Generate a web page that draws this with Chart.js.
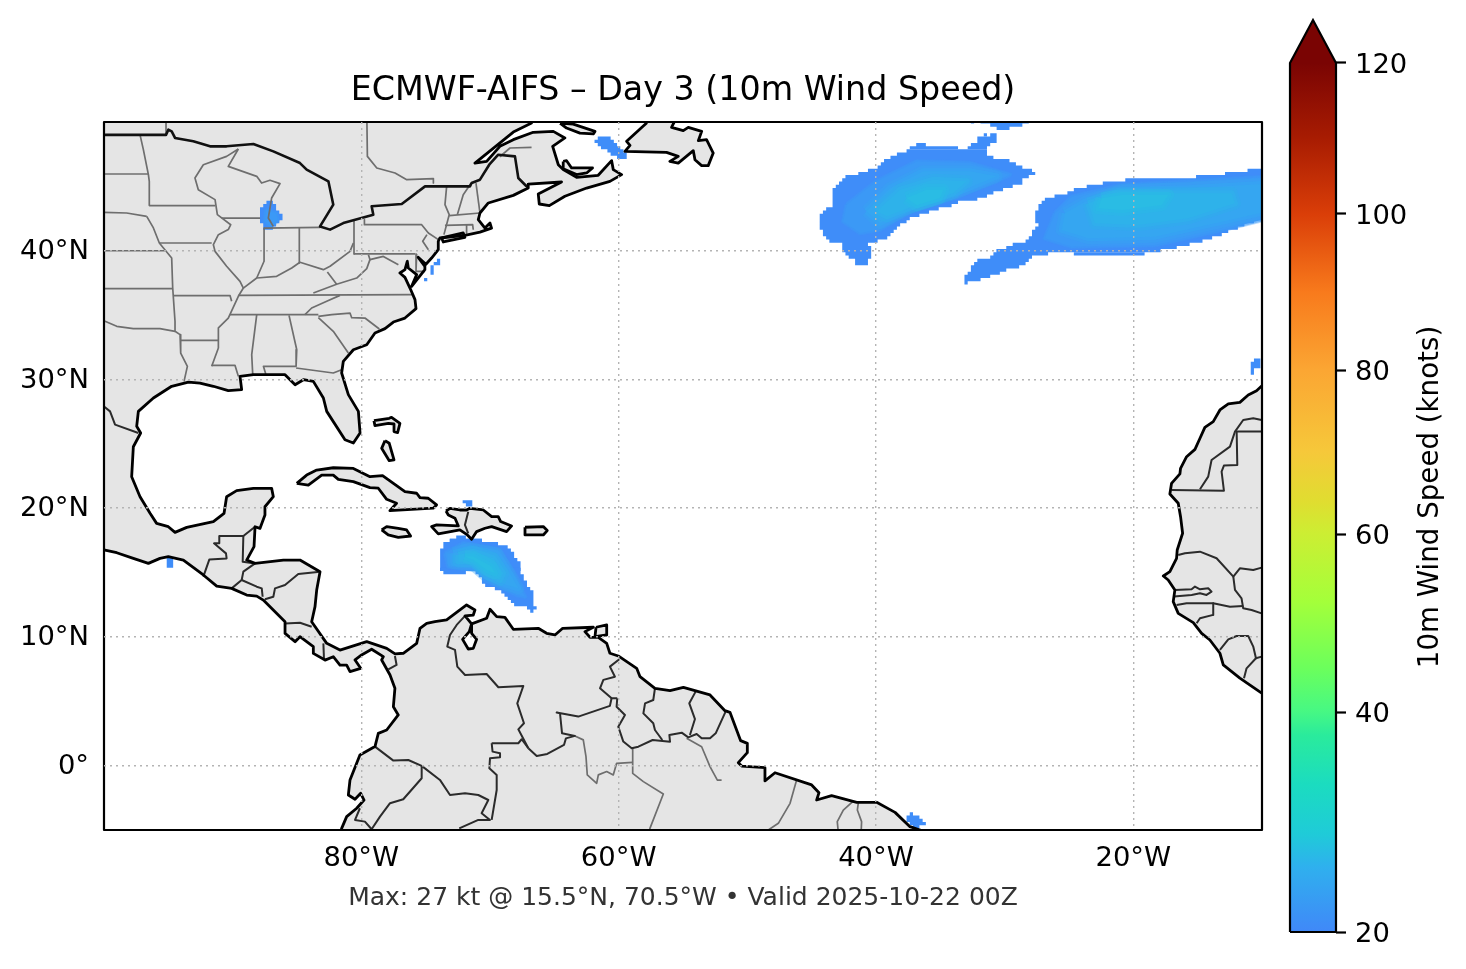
<!DOCTYPE html>
<html>
<head>
<meta charset="utf-8">
<title>ECMWF-AIFS Day 3</title>
<script src="https://cdn.jsdelivr.net/npm/chart.js@4/dist/chart.umd.min.js"></script>
<style>
  html, body { margin: 0; padding: 0; background: #fff; overflow: hidden; }
  canvas { position: absolute; top: 0; }
  #mapChart { left: 0; }
  #barChart { left: 1270px; }
</style>
</head>
<body>
<canvas id="mapChart" width="1466" height="969"></canvas>
<canvas id="barChart" width="196" height="969"></canvas>
<script>
// axis ticks
var lonTicks = [-80, -60, -40, -20];
var latTicks = [0, 10, 20, 30, 40];
var speedTicks = [20, 40, 60, 80, 100, 120];

// colour bar: position of each tick along the bar (it is not linear), and colour stops
var speedApex = 126;
var speedStops = [20, 40, 60, 80, 100, 120, speedApex];
var speedStopPos = [0, 0.2412, 0.4364, 0.6162, 0.7873, 0.9529, 1];
var colorKnots = [20, 25.9, 28.9, 33.4, 37.9, 40, 44.9, 52.4, 60, 64, 70, 80, 90, 100, 110, 120];
var colorValues = ['#4088f8', '#2fb0ee', '#1fcbd8', '#1bdcc0', '#2aeb9c', '#46f884', '#6bff5c', '#a4ff3a', '#ccee33',
  '#e0dd30', '#f6c83a', '#fba633', '#f87a1c', '#da3e08', '#a81c02', '#7a0403'];
var barBody = [[0, 20], [1, 20], [1, 120], [0, 120]];
var barArrow = [[0, 120], [1, 120], [0.5, speedApex]];

// land outlines, [lon, lat]
var americas = [[-101, 51], [-66.5, 51], [-66.77, 49.92], [-68.19, 49.22], [-71.17, 46.81], [-70.26, 46.94], [-69.23, 48.11],
  [-68.19, 48.63], [-66.64, 49.2], [-65.08, 49.27], [-64.18, 48.76], [-65.13, 48.11], [-64.69, 46.68], [-64.31, 46.3],
  [-63.27, 45.7], [-61.59, 45.86], [-60.55, 47.0], [-60.42, 46.3], [-59.77, 45.91], [-60.68, 45.39], [-62.49, 44.87],
  [-64.18, 44.23], [-65.39, 43.5], [-66.17, 43.63], [-66.25, 44.41], [-64.44, 45.34], [-67.03, 45.18], [-67.03, 44.87],
  [-68.19, 44.3], [-70.13, 43.71], [-70.78, 42.93], [-70.91, 42.41], [-70.39, 41.76], [-70.0, 42.15], [-69.88, 41.76],
  [-70.78, 41.45], [-71.95, 41.2], [-73.89, 40.99], [-74.02, 40.73], [-74.02, 40.08], [-74.54, 39.43], [-74.98, 38.95],
  [-75.58, 39.49], [-75.06, 38.79], [-75.06, 38.53], [-76.09, 37.23], [-75.7, 38.14], [-76.35, 38.66], [-76.43, 39.18],
  [-76.61, 38.53], [-77, 38.27], [-76.61, 37.93], [-76.22, 37.1], [-75.83, 36.2], [-75.75, 35.5], [-76.61, 34.77],
  [-77.51, 34.46], [-78.16, 33.95], [-78.94, 33.61], [-79.58, 32.7], [-80.62, 32.31], [-81.4, 31.41], [-81.53, 30.5],
  [-81.01, 28.82], [-80.23, 27.52], [-80.1, 25.84], [-80.62, 25.06], [-81.27, 25.32], [-82.69, 27.52], [-82.95, 28.56],
  [-83.73, 29.85], [-84.5, 29.98], [-85.15, 29.59], [-85.93, 30.37], [-87.1, 30.37], [-88.39, 30.37], [-89.43, 30.24],
  [-89.3, 29.21], [-90.34, 29.13], [-91.5, 29.47], [-92.54, 29.72], [-93.44, 29.8], [-94.74, 29.47], [-96.16, 28.56],
  [-97.33, 27.52], [-97.46, 26.36], [-97.15, 25.84], [-97.72, 24.77], [-97.85, 22.44], [-97.2, 20.89], [-96.42, 19.6],
  [-95.91, 18.82], [-95.0, 18.56], [-94.48, 18.12], [-93.57, 18.51], [-91.5, 18.95], [-90.67, 19.6], [-90.47, 20.89],
  [-89.69, 21.36], [-88.39, 21.54], [-86.97, 21.54], [-86.84, 20.89], [-87.49, 20.11], [-87.49, 19.47], [-87.88, 18.43],
  [-88.26, 18.56], [-88.34, 17.01], [-88.91, 15.97], [-88.26, 15.71], [-86.06, 15.97], [-84.77, 15.97], [-83.21, 15.06],
  [-83.47, 13.64], [-83.6, 12.35], [-83.86, 11.18], [-82.69, 9.5], [-81.66, 8.98], [-79.58, 9.63], [-78.03, 9.11],
  [-77.38, 8.68], [-76.74, 8.73], [-75.7, 9.5], [-75.44, 10.67], [-74.92, 11.06], [-74.28, 11.19], [-73.37, 11.32],
  [-71.82, 12.48], [-71.17, 12.09], [-71.3, 11.7], [-71.94, 11.63], [-71.43, 11.01], [-70.26, 11.45], [-70.0, 12.15],
  [-69.48, 11.58], [-68.84, 11.52], [-68.19, 10.59], [-66.25, 10.67], [-65.6, 10.28], [-64.95, 10.15], [-64.35, 10.67],
  [-61.97, 10.75], [-62.62, 10.41], [-62.23, 9.97], [-61.58, 9.97], [-60.93, 9.5], [-60.68, 8.73], [-60.03, 8.52],
  [-58.6, 7.56], [-58.34, 6.91], [-57.18, 6.0], [-56.01, 5.82], [-54.97, 6.08], [-52.9, 5.49], [-51.74, 4.27],
  [-51.35, 4.14], [-50.52, 1.94], [-50.0, 1.73], [-50.0, 1.01], [-50.7, 0.23], [-50.44, -0.03], [-48.63, -0.16],
  [-48.63, -1.19], [-47.85, -0.55], [-45.0, -1.5], [-44.43, -2.1], [-44.61, -2.67], [-43.45, -2.33], [-41.5, -2.85],
  [-39.95, -2.85], [-38.52, -3.63], [-37.36, -4.74], [-36.58, -5.0], [-35.8, -5.5], [-36, -6], [-81.8, -6],
  [-81.53, -4.87], [-81.14, -3.96], [-80.36, -3.31], [-79.79, -2.67], [-80.05, -2.15], [-80.49, -2.61], [-81.01, -2.28],
  [-80.88, -1.11], [-80.11, 0.83], [-78.94, 1.48], [-78.68, 2.51], [-78.03, 2.77], [-77.13, 3.94], [-77.51, 4.58],
  [-77.39, 6.01], [-77.77, 7.04], [-78.42, 8.21], [-78.29, 8.47], [-79.2, 9.04], [-79.98, 8.6], [-80.49, 8.21],
  [-80.05, 7.56], [-80.88, 7.3], [-81.14, 7.81], [-81.66, 7.81], [-82.18, 8.46], [-82.82, 8.2], [-83.73, 8.72],
  [-83.73, 9.24], [-84.77, 10.02], [-85.15, 9.63], [-85.93, 10.27], [-85.93, 11.18], [-87.62, 12.86], [-88.13, 13.17],
  [-88.91, 13.25], [-90.08, 13.77], [-91.24, 13.95], [-92.28, 14.81], [-93.83, 15.97], [-95.0, 16.23], [-95.65, 16.1],
  [-96.55, 15.71], [-97.72, 16.1], [-99.01, 16.54], [-99.92, 16.75], [-101, 17]];
var africa = [[-10.03, 29.49], [-10.42, 29.13], [-11.07, 28.79], [-11.72, 28.22], [-12.62, 28.1], [-13.27, 27.63],
  [-13.79, 26.72], [-14.44, 26.28], [-14.82, 25.43], [-15.21, 24.57], [-15.86, 24.0], [-16.33, 23.1], [-16.38, 22.66],
  [-17.03, 21.93], [-17.16, 21.1], [-16.51, 20.38], [-16.33, 19.34], [-16.17, 18.05], [-16.59, 16.75], [-16.64, 16.11],
  [-17.16, 15.07], [-17.67, 14.73], [-17.29, 14.42], [-16.77, 13.65], [-16.9, 12.74], [-16.51, 11.83], [-15.34, 11.11],
  [-14.69, 10.28], [-14.05, 9.76], [-13.27, 8.73], [-13.01, 7.82], [-11.72, 6.8], [-10.08, 5.67], [-9.5, 5.3],
  [-9, 5.3], [-9, 29.9], [-9.5, 29.9]];
var longIsland = [[-73.76, 40.99], [-72.08, 41.38], [-71.95, 41.04], [-73.63, 40.68]];
var anticosti = [[-64.56, 49.92], [-63.53, 49.84], [-61.84, 49.27], [-61.97, 49.07], [-63.01, 49.14], [-64.05, 49.53]];
var princeEdward = [[-64.31, 46.94], [-64.05, 46.99], [-63.66, 46.43], [-62.03, 46.43], [-62.49, 46.04], [-63.27, 45.91], [-64.31, 46.37]];
var newfoundland = [[-57.83, 49.92], [-59.38, 48.5], [-59.12, 48.19], [-59.51, 47.72], [-56.28, 47.64], [-55.37, 47.33],
  [-56.02, 46.94], [-55.37, 46.81], [-54.2, 47.77], [-54.07, 47.07], [-53.55, 46.61], [-53.04, 46.61], [-52.65, 47.59],
  [-53.17, 48.63], [-53.81, 48.55], [-53.55, 49.27], [-54.59, 49.58], [-54.98, 49.33], [-55.89, 49.58], [-55.63, 50.1],
  [-55.63, 50.6], [-57.6, 50.6]];
var bahamasNorth = [[-79.02, 26.8], [-77.83, 26.98], [-77.65, 27.06], [-77.0, 26.59], [-77.18, 25.87], [-77.46, 25.95],
  [-77.46, 26.54], [-77.9, 26.59], [-78.94, 26.41]];
var bahamasAndros = [[-78.16, 25.25], [-77.83, 25.04], [-77.46, 23.75], [-77.83, 23.69], [-78.42, 24.65]];
var cuba = [[-85.02, 21.93], [-84.25, 22.57], [-83.47, 22.96], [-82.18, 23.14], [-80.62, 23.09], [-79.33, 22.45], [-78.35, 22.53],
  [-76.61, 21.29], [-75.7, 21.16], [-75.44, 20.82], [-74.8, 20.77], [-74.15, 20.25], [-74.41, 20.0], [-77.78, 19.81],
  [-77.26, 20.38], [-78.03, 20.69], [-78.68, 21.55], [-79.33, 21.6], [-80.62, 22.06], [-81.79, 22.24], [-82.18, 22.57],
  [-83.08, 22.57], [-84.12, 21.8]];
var jamaica = [[-78.42, 18.31], [-78.03, 18.57], [-77.13, 18.44], [-76.48, 18.31], [-76.17, 17.84], [-77.13, 17.74], [-77.91, 17.92]];
var hispaniola = [[-73.42, 19.78], [-73.11, 19.99], [-72.34, 19.86], [-71.82, 19.86], [-71.56, 19.99], [-70.52, 19.86], [-69.87, 19.34],
  [-69.36, 19.34], [-69.17, 18.96], [-68.32, 18.62], [-68.71, 18.18], [-69.87, 18.57], [-70.39, 18.44], [-71.04, 18.18],
  [-71.43, 17.58], [-71.76, 17.92], [-72.34, 18.31], [-74.02, 18.0], [-74.54, 18.57], [-74.15, 18.7], [-72.46, 18.62],
  [-72.72, 19.22], [-73.24, 19.47]];
var puertoRico = [[-67.28, 18.52], [-65.86, 18.57], [-65.55, 18.26], [-65.86, 17.92], [-67.28, 17.92]];
var trinidad = [[-61.76, 10.75], [-60.93, 10.93], [-60.93, 10.15], [-61.84, 10.02]];
var lakeMaracaibo = [[-71.43, 11.01], [-71.43, 10.28], [-71.04, 9.81], [-71.3, 9.11], [-71.69, 9.06], [-72.13, 9.81], [-71.61, 10.41]];
var landShapes = [americas, africa, longIsland, anticosti, princeEdward, newfoundland, bahamasNorth, bahamasAndros, cuba, jamaica, hispaniola, puertoRico, trinidad];

// black US / Canada line
var canadaBorder = [[-99.92, 49.0], [-95.18, 49.0], [-95, 49.4], [-94.74, 49.27], [-94.48, 48.76], [-93.06, 48.5], [-91.76, 48.11],
  [-90.47, 48.11], [-88.39, 48.29], [-86.84, 47.72], [-84.77, 46.81], [-84.25, 46.3], [-82.56, 45.39], [-82.18, 43.58],
  [-83.21, 41.89], [-82.43, 41.64], [-81.4, 42.15], [-79.07, 42.8], [-79.2, 43.45], [-76.86, 43.63], [-75.05, 45.0],
  [-74.93, 45.0], [-71.56, 45.0], [-71.43, 45.26], [-70.78, 45.52], [-70.06, 46.68], [-69.36, 47.46], [-68.06, 47.33],
  [-67.8, 45.65], [-67.03, 44.87]];

// dark country borders
var countryBorders = [
  [[-101, 28.4], [-100, 27.9], [-99.53, 27.52], [-99.14, 26.49], [-97.33, 25.84]],
  [[-92.28, 14.68], [-91.81, 16.02], [-90.47, 16.1], [-90.52, 16.49], [-91.45, 17.27], [-91.04, 17.27], [-91.04, 17.84], [-89.17, 17.84], [-89.22, 15.84], [-88.26, 15.71]],
  [[-89.17, 17.84], [-88.26, 18.56]],
  [[-90.08, 13.77], [-89.3, 14.42], [-88.13, 13.9], [-87.74, 13.77], [-87.67, 13.12]],
  [[-89.3, 14.42], [-89.17, 15.07], [-88.26, 15.71]],
  [[-87.49, 12.92], [-86.84, 13.12], [-86.71, 13.77], [-85.93, 14.03], [-84.9, 14.88], [-83.21, 15.06]],
  [[-85.93, 11.05], [-84.77, 11.1], [-83.86, 10.79]],
  [[-82.95, 9.5], [-82.9, 8.2]],
  [[-77.39, 8.52], [-77.26, 7.82], [-77.9, 7.48]],
  [[-71.94, 11.63], [-72.59, 10.93], [-73.11, 10.15], [-73.32, 9.25], [-72.72, 8.99], [-72.54, 7.69], [-71.94, 7.04], [-70.26, 7.12], [-69.35, 6.09], [-67.41, 6.19], [-67.88, 4.84], [-67.36, 3.29], [-67.8, 2.82], [-67.02, 1.35]],
  [[-69.87, 1.74], [-67.8, 1.74], [-67.54, 2.05], [-67.02, 1.35]],
  [[-69.87, 1.74], [-69.8, 1.09], [-69.22, 0.96], [-69.22, 0.65], [-70, 0.57], [-70.05, -0.21], [-69.48, -0.72], [-69.48, -1.89], [-69.87, -4.22]],
  [[-67.02, 1.35], [-66.37, 0.75], [-65.55, 0.91], [-64.25, 1.61], [-64.1, 2.12], [-63.4, 2.31], [-64.4, 2.51], [-64.56, 4.07], [-64.82, 4.12], [-63.14, 3.81], [-60.68, 4.64], [-60.55, 5.23], [-60.11, 5.23]],
  [[-59.95, 8.26], [-60.68, 7.69], [-60.29, 6.91], [-61.19, 6.66], [-61.45, 6.01], [-60.55, 5.23]],
  [[-60.11, 5.23], [-60.16, 4.58], [-59.51, 3.94], [-60.03, 3.03], [-59.64, 1.87], [-58.99, 1.35], [-58.47, 1.47], [-57.36, 1.99], [-56.01, 1.86], [-56.06, 2.38], [-55.1, 2.56], [-54.59, 2.2], [-53.94, 2.46], [-53.55, 2.12], [-52.9, 2.12], [-52.46, 2.51], [-51.69, 4.19]],
  [[-57.18, 6.0], [-57.31, 5.1], [-57.95, 4.84], [-58.08, 4.06], [-57.31, 3.29], [-57.18, 2.77], [-56.61, 1.99]],
  [[-54.02, 5.75], [-54.51, 4.84], [-54.07, 3.62], [-54.46, 2.38]],
  [[-78.94, 1.48], [-77.51, 0.39], [-76.35, 0.44], [-75.31, -0.02], [-73.89, -1.11], [-73.11, -2.28], [-71.94, -2.15], [-70.91, -2.28], [-70.13, -2.67], [-70.65, -3.7], [-70.0, -4.22], [-70.91, -4.22], [-72.39, -4.87]],
  [[-75.31, -0.02], [-75.31, -0.98], [-76.74, -2.61], [-77.77, -2.92], [-78.55, -3.96], [-79.2, -4.94], [-79.72, -4.35], [-80.49, -4.22], [-80.11, -3.31]],
  [[-71.69, 19.73], [-71.95, 18.7], [-71.69, 18.05]],
  [[-17.03, 21.41], [-12.96, 21.36], [-13.14, 22.84], [-12.96, 23.31], [-11.92, 23.36], [-11.97, 25.95], [-10.03, 25.95], [-9, 25.95]],
  [[-14.82, 21.47], [-14.18, 22.45], [-13.92, 23.74], [-12.49, 24.78], [-12.1, 25.95], [-11.46, 26.85], [-10.68, 26.98], [-10.03, 26.85], [-9, 26.6]],
  [[-16.51, 16.37], [-15.99, 16.5], [-14.82, 16.62], [-13.53, 16.11], [-12.23, 14.68], [-11.72, 15.33], [-10.68, 15.2], [-10.03, 15.38], [-9, 15.5]],
  [[-12.23, 14.68], [-12.1, 13.65], [-11.59, 13], [-11.46, 12.22], [-10.81, 12.09], [-10.03, 11.83], [-9, 11.7]],
  [[-16.77, 13.65], [-15.47, 13.7], [-15.21, 13.91], [-14.82, 13.7], [-14.18, 13.78], [-13.92, 13.52], [-14.31, 13.26], [-14.82, 13.39], [-15.47, 13.26], [-16.84, 13.13]],
  [[-16.64, 12.48], [-15.86, 12.61], [-13.79, 12.61], [-12.49, 12.35], [-11.46, 12.4]],
  [[-13.79, 12.61], [-13.79, 11.71], [-14.82, 11.45], [-15.08, 11.06]],
  [[-13.27, 8.99], [-12.62, 9.81], [-11.97, 10.07], [-11.07, 10.07], [-10.68, 9.25], [-10.47, 8.34], [-10.03, 8.47], [-9, 8.4]],
  [[-10.47, 8.34], [-11.2, 7.56], [-11.4, 6.78]]
];

// grey state and province lines
var stateLines = [
  [[-101, 45.96], [-96.55, 45.96]],
  [[-97.2, 49], [-96.94, 47.85], [-96.55, 45.91], [-96.48, 45.39], [-96.48, 43.53]],
  [[-101, 43], [-98.24, 42.93], [-96.68, 42.67]],
  [[-96.48, 43.5], [-91.37, 43.5]],
  [[-89.56, 47.9], [-90.47, 47.33], [-92.28, 46.68], [-92.93, 45.65], [-92.67, 44.74], [-91.37, 43.97], [-91.19, 42.8], [-90.15, 42.02],
    [-90.34, 41.64], [-91.11, 41.25], [-91.5, 40.47], [-91.37, 39.95], [-90.47, 38.79], [-89.43, 37.62], [-89.17, 37.1], [-89.56, 36.46],
    [-90.34, 34.77], [-91.11, 34.0], [-91.11, 32.44], [-91.63, 31.02]],
  [[-95.7, 40.6], [-91.63, 40.6]],
  [[-96.68, 42.67], [-96.16, 41.77], [-95.7, 40.6], [-94.74, 39.43], [-94.66, 37.1]],
  [[-101, 40], [-95.26, 40]],
  [[-101, 37.05], [-94.66, 37.05]],
  [[-94.56, 36.51], [-90.2, 36.51], [-90.08, 36.07]],
  [[-94.66, 37.1], [-94.48, 34.5], [-94.48, 33.74], [-94.09, 33.48], [-94.04, 32.05], [-93.52, 31.02], [-93.78, 29.85]],
  [[-101, 34.6], [-99.92, 34.52], [-99.01, 34.13], [-97.72, 33.95], [-95.65, 33.95], [-94.48, 33.74]],
  [[-94.04, 33.04], [-91.11, 33.04]],
  [[-91.63, 31.1], [-89.82, 31.1], [-89.56, 30.24]],
  [[-90.85, 42.54], [-87.87, 42.54]],
  [[-89.56, 47.9], [-90.34, 46.55], [-88.13, 45.78], [-87.75, 45.26], [-87.1, 45.47], [-86.32, 45.21], [-86.97, 44.1], [-87.23, 42.54], [-86.84, 41.89]],
  [[-87.56, 41.76], [-87.56, 39.18], [-88.13, 37.88]],
  [[-87.56, 41.76], [-83.21, 41.82]],
  [[-84.82, 41.76], [-84.82, 39.05]],
  [[-89.17, 37.1], [-88.13, 37.88], [-86.58, 38.01], [-85.41, 38.66], [-84.77, 39.1], [-82.95, 38.53], [-82.43, 38.79], [-80.88, 39.95], [-80.62, 40.6]],
  [[-80.57, 42.28], [-80.57, 39.75]],
  [[-80.57, 39.75], [-75.83, 39.75]],
  [[-79.76, 42.41], [-79.76, 42.02], [-75.31, 42.02], [-74.79, 41.38], [-74.01, 40.86]],
  [[-74.9, 41.25], [-75.23, 40.73], [-74.79, 40.08]],
  [[-82.64, 38.35], [-81.92, 37.4], [-80.36, 37.88], [-79.58, 38.61], [-79.33, 39.31], [-79.45, 39.69]],
  [[-79.33, 39.31], [-78.29, 39.56], [-77.12, 38.92]],
  [[-81.92, 37.4], [-83.73, 36.72]],
  [[-89.56, 36.53], [-75.96, 36.59]],
  [[-90.21, 35.03], [-83.34, 35.03]],
  [[-84.38, 35.03], [-83.86, 35.55], [-82.69, 36.07], [-81.66, 36.53]],
  [[-88.13, 35.03], [-88.52, 31.93], [-88.44, 30.37]],
  [[-85.62, 34.98], [-85.02, 32.31], [-85.07, 31.02]],
  [[-87.43, 30.42], [-87.61, 31.02], [-85.07, 31.02]],
  [[-85.07, 30.89], [-82.18, 30.5], [-81.53, 30.76]],
  [[-83.34, 34.9], [-82.3, 35.03], [-80.88, 35.16], [-80.75, 34.8], [-79.72, 34.77], [-78.6, 33.92]],
  [[-83.34, 34.8], [-82.18, 33.74], [-81.01, 32.06]],
  [[-75.7, 39.75], [-75.75, 38.4], [-75.05, 38.4]],
  [[-79.58, 51], [-79.53, 47.33], [-78.8, 46.43], [-77.38, 46.04], [-76.47, 45.52], [-74.4, 45.6], [-74.4, 45.26]],
  [[-95.18, 51], [-95.18, 49]],
  [[-69.23, 47.3], [-68.45, 47.98], [-66.77, 48.03]],
  [[-73.37, 45.0], [-73.5, 43.58], [-73.17, 42.8], [-73.58, 41.25]],
  [[-71.51, 45.18], [-72.08, 44.35], [-72.54, 42.8]],
  [[-71.09, 45.26], [-70.78, 42.93]],
  [[-73.17, 42.72], [-70.78, 42.93]],
  [[-73.5, 41.97], [-71.35, 42.02], [-71.3, 41.63]],
  [[-71.82, 41.97], [-71.82, 41.38]],
  [[-63.4, 2.31], [-62.75, 2.0], [-62.54, 0.7], [-62.44, -0.72], [-61.71, -1.37], [-61.58, -0.72], [-60.93, -0.46], [-60.42, -0.72], [-60.16, 0.18], [-58.91, 0.26]],
  [[-58.91, 1.35], [-58.91, -0.6], [-58.08, -1.24], [-56.53, -2.2], [-57.57, -4.87], [-57.7, -6]],
  [[-54.72, 2.12], [-53.55, 1.47], [-52.9, -0.08], [-52.33, -1.12], [-52, -1.12]],
  [[-46.17, -1.12], [-46.68, -2.93], [-47.59, -4.48], [-48.37, -5.0], [-49, -6]],
  [[-41.81, -2.8], [-42.54, -3.45], [-43.01, -4.35], [-42.85, -6]],
  [[-41.37, -2.85], [-41.45, -3.45], [-41.12, -4.35], [-41.19, -6]]
];

// wind cells: [lat, lonStart, lonEnd] for each 0.25 degree row
var northBlob = [[47.75, -37.625, -31.375], [47.5, -38.375, -31.375], [47.25, -38.875, -30.875], [47, -39.375, -29.625],
  [46.75, -39.625, -29.125], [46.5, -39.875, -28.625], [46.25, -40.625, -27.875], [46, -41.375, -27.625], [45.75, -42.375, -28.125],
  [45.5, -42.625, -28.625], [45.25, -42.875, -28.625], [45, -43.125, -29.375], [44.75, -43.375, -30.125], [44.5, -43.375, -30.875],
  [44.25, -43.375, -31.375], [44, -43.375, -32.125], [43.75, -43.375, -33.625], [43.5, -43.375, -34.125], [43.25, -43.875, -35.125],
  [43, -44.125, -35.875], [42.75, -44.375, -36.625], [42.5, -44.375, -37.375], [42.25, -44.375, -37.625], [42, -44.375, -38.125],
  [41.75, -44.375, -38.375], [41.5, -44.125, -38.625], [41.25, -44.125, -38.875], [41, -43.875, -39.125], [40.75, -43.625, -39.875],
  [40.5, -42.625, -40.625], [40.25, -42.625, -40.375], [40, -42.625, -40.375], [39.75, -42.375, -40.375], [39.5, -42.125, -40.375],
  [39.25, -41.625, -40.625], [39, -41.625, -40.625]];
var northSpur = [[49, -31.125, -30.625], [48.75, -32.125, -30.625], [48.5, -32.125, -30.625], [48.25, -32.625, -31.125], [48, -32.875, -31.375]];
var northSpurTip = [[49, -31.625, -31.375]];
var northBump = [[48.25, -36.875, -36.125], [48, -37.375, -33.625]];
var topPatch = [[50, -31.875, -28.125], [49.75, -31.125, -28.625], [49.5, -30.625, -29.625]];
var topPatchDot = [[50, -32.625, -32.375]];
var eastBlob = [[46.25, -11.125, -9.875], [46, -12.875, -9.875], [45.75, -15.125, -9.875], [45.5, -20.625, -9.875], [45.25, -22.375, -9.875],
  [45, -23.625, -9.875], [44.75, -24.625, -9.875], [44.5, -25.125, -9.875], [44.25, -26.125, -9.875], [44, -26.875, -9.875],
  [43.75, -27.125, -9.875], [43.5, -27.375, -9.875], [43.25, -27.375, -9.875], [43, -27.625, -9.875], [42.75, -27.625, -9.875],
  [42.5, -27.625, -9.875], [42.25, -27.625, -10.625], [42, -27.375, -11.375], [41.75, -27.625, -11.875], [41.5, -27.875, -12.625],
  [41.25, -27.875, -13.125], [41, -28.125, -13.875], [40.75, -28.375, -14.625], [40.5, -29.375, -15.625], [40.25, -29.875, -16.625],
  [40, -30.625, -17.875]];
var eastTail = [[40, -30.625, -26.625], [39.75, -30.875, -26.625], [39.5, -31.125, -27.875], [39.25, -32.125, -28.125], [39, -32.375, -28.375],
  [38.75, -32.625, -28.875], [38.5, -32.625, -29.875], [38.25, -32.875, -30.375], [38, -33.125, -31.125], [37.75, -33.125, -31.875],
  [37.5, -33.125, -32.875]];
var eastUnder = [[39.75, -24.625, -19.125]];
var caribBlob = [[17.5, -73.125, -70.625], [17.25, -73.625, -69.375], [17, -73.625, -68.625], [16.75, -73.875, -68.375], [16.5, -73.875, -68.125],
  [16.25, -73.875, -68.125], [16, -73.875, -67.875], [15.75, -73.875, -67.625], [15.5, -73.875, -67.625], [15.25, -73.875, -67.625]];
var caribTop = [[17.75, -72.625, -71.875], [17.5, -73.125, -70.625]];
var caribWest = [[15.25, -73.875, -71.875], [15, -73.625, -71.875]];
var caribTail = [[15.25, -71.125, -67.625], [15, -71.125, -67.625], [14.75, -70.875, -67.375], [14.5, -70.625, -67.375], [14.25, -70.625, -67.125],
  [14, -70.375, -67.125], [13.75, -69.625, -66.875], [13.5, -69.125, -66.625], [13.25, -68.875, -66.625], [13, -68.625, -66.625],
  [12.75, -68.375, -66.625], [12.5, -68.125, -66.625], [12.25, -67.125, -66.375], [12, -66.875, -66.625]];
var haitiNorth = [[20.5, -72.125, -71.375], [20.25, -71.875, -71.375]];
var michigan = [[43.75, -87.375, -86.875], [43.5, -87.625, -86.625], [43.25, -87.875, -86.625], [43, -87.875, -86.375], [42.75, -87.875, -86.125],
  [42.5, -87.875, -86.125], [42.25, -87.875, -86.375], [42, -87.625, -86.625], [41.75, -87.625, -86.875]];
var gulfPatch = [[48.75, -61.625, -60.625], [48.5, -61.875, -60.375], [48.25, -61.625, -60.125], [48, -61.375, -59.875],
  [47.75, -60.875, -59.625], [47.5, -60.625, -59.375], [47.25, -60.125, -59.375]];
var jerseyTop = [[39.25, -74.125, -73.875], [39, -74.375, -73.875]];
var jerseyStrip = [[38.75, -74.625, -74.375], [38.5, -74.625, -74.375], [38.25, -74.625, -74.375]];
var jerseyDot = [[37.75, -75.125, -74.875]];
var mexicoDot = [[16, -95.125, -94.625], [15.75, -95.125, -94.625], [15.5, -95.125, -94.625]];
var moroccoPatch = [[31.5, -10.625, -10.125], [31.25, -10.875, -10.125], [31, -10.875, -10.125], [30.75, -10.875, -10.625], [30.5, -10.875, -10.625]];
var brazilPatch = [[-3.75, -37.375, -37.125], [-4, -37.625, -36.625], [-4.25, -37.625, -36.375], [-4.5, -37.375, -36.125], [-4.75, -37.125, -36.625]];
var baseCells = [northBlob, northSpur, northSpurTip, northBump, topPatch, topPatchDot, eastBlob, eastTail, eastUnder, caribBlob, caribTop, caribWest,
  caribTail, haitiNorth, michigan, gulfPatch, jerseyTop, jerseyStrip, jerseyDot, mexicoDot, moroccoPatch, brazilPatch];

// stronger wind inside the blobs, one array of shapes per colour
var windColors = ['#3b99f6', '#35a6f1', '#2eb2ea', '#2abce4'];
var windLevel1 = [
  [[-42.28, 43.58], [-39.95, 45.39], [-36.84, 46.94], [-32.7, 46.81], [-29.59, 45.91], [-30.62, 45.39], [-33.73, 44.23], [-37.36, 43.06], [-39.69, 41.64], [-41.24, 41.38], [-42.54, 42.28]],
  [[-26.09, 42.91], [-24.79, 44.2], [-20.91, 45.11], [-15.73, 45.37], [-9, 45.76], [-9, 42.65], [-13.65, 41.48], [-18.32, 40.45], [-24.79, 40.32], [-26.87, 40.96]],
  [[-73.5, 16.5], [-72.08, 17.27], [-69.23, 16.76], [-68.2, 14.94], [-67.28, 13.13], [-67.93, 13.26], [-69.74, 14.16], [-71.04, 15.2], [-73.24, 15.46]],
  [[-87.4, 43.2], [-86.6, 42.9], [-86.5, 42.4], [-87, 41.9], [-87.5, 42.3]]
];
var windLevel2 = [
  [[-40.73, 43.06], [-38.91, 44.87], [-36.32, 46.17], [-32.7, 46.17], [-30.62, 45.78], [-33.73, 44.48], [-37.36, 43.32], [-39.69, 42.15]],
  [[-25.31, 42.91], [-23.76, 43.81], [-20.91, 44.72], [-15.73, 44.85], [-9, 45.24], [-9, 43.17], [-13.65, 42.13], [-18.32, 41.09], [-23.5, 40.97], [-25.57, 41.61]],
  [[-72.85, 16.5], [-71.56, 16.88], [-69.48, 16.5], [-68.45, 14.94], [-67.8, 13.78], [-68.71, 14.04], [-70.26, 14.68], [-71.3, 15.59], [-72.85, 15.72]]
];
var windLevel3 = [
  [[-39.95, 43.06], [-38.14, 44.74], [-35.54, 45.52], [-32.95, 45.39], [-33.99, 44.48], [-37.1, 43.45], [-39.17, 42.67]],
  [[-23.5, 43.68], [-21.42, 44.46], [-15.73, 44.46], [-12.36, 44.46], [-12.1, 43.68], [-15.73, 42.52], [-19.61, 42.0], [-22.98, 42.13]],
  [[-72.46, 16.37], [-71.3, 16.63], [-69.74, 16.11], [-68.97, 14.94], [-69.23, 14.42], [-70.26, 14.94], [-71.3, 15.85], [-72.46, 15.85]]
];
var windLevel4 = [
  [[-37.62, 44.09], [-36.06, 44.74], [-34.77, 44.74], [-35.03, 44.09], [-36.84, 43.53]],
  [[-22.46, 44.07], [-20.91, 44.33], [-17.28, 44.33], [-17.8, 43.55], [-20.91, 43.17], [-22.72, 43.3]],
  [[-71.95, 16.24], [-71.3, 16.24], [-69.87, 15.46], [-69.61, 14.94], [-70.26, 15.2], [-71.3, 15.98]]
];
var windLevels = [windLevel1, windLevel2, windLevel3, windLevel4];

var titleText = 'ECMWF-AIFS – Day 3 (10m Wind Speed)';
var footerText = 'Max: 27 kt @ 15.5°N, 70.5°W • Valid 2025-10-22 00Z';
var barLabel = '10m Wind Speed (knots)';
var lonRange = [-100, -10];
var latRange = [-5, 50];

var fontFamily = '"DejaVu Sans", sans-serif';
var tickSize = 27.4;
var landColor = '#e5e5e5';
var cellHalf = 0.125;

function toPoints(list) {
  return list.map(function (p) { return { x: p[0], y: p[1] }; });
}

function closed(list) {
  return toPoints(list.concat([list[0]]));
}

function fillSet(list, color) {
  return { data: toPoints(list), showLine: true, fill: 'shape', backgroundColor: color, borderWidth: 0, borderColor: color, pointRadius: 0 };
}

function lineSet(points, color, width) {
  return { data: points, showLine: true, fill: false, borderColor: color, borderWidth: width, borderJoinStyle: 'round', pointRadius: 0 };
}

// stair outline around a run of grid rows
function cellOutline(rows) {
  var right = [], left = [];
  rows.forEach(function (r) {
    right.push([r[2], r[0] + cellHalf], [r[2], r[0] - cellHalf]);
    left.unshift([r[1], r[0] - cellHalf], [r[1], r[0] + cellHalf]);
  });
  return right.concat(left);
}

function buildMapDatasets() {
  var sets = [];
  landShapes.forEach(function (s) { sets.push(fillSet(s, landColor)); });
  baseCells.forEach(function (rows) { sets.push(fillSet(cellOutline(rows), '#3f8df9')); });
  windLevels.forEach(function (shapes, i) {
    shapes.forEach(function (s) {
      // soft rim so the colour steps do not show as hard edges
      sets.push(lineSet(closed(s), windColors[i] + '55', i === 0 ? 5 : 12));
      sets.push(lineSet(closed(s), windColors[i] + '88', i === 0 ? 3 : 6));
      sets.push(fillSet(s, windColors[i]));
    });
  });
  stateLines.forEach(function (l) { sets.push(lineSet(toPoints(l), '#6e6e6e', 1.7)); });
  countryBorders.forEach(function (l) { sets.push(lineSet(toPoints(l), '#2b2b2b', 2)); });
  sets.push(lineSet(toPoints(canadaBorder), '#111', 2.6));
  landShapes.forEach(function (s) { sets.push(lineSet(closed(s), '#000', 2.8)); });
  sets.push(fillSet(lakeMaracaibo, '#fff'));
  sets.push(lineSet(closed(lakeMaracaibo), '#000', 2.8));
  var frame = lineSet(closed([[lonRange[0], latRange[0]], [lonRange[1], latRange[0]], [lonRange[1], latRange[1]], [lonRange[0], latRange[1]]]), '#000', 2.2);
  frame.clip = false;
  sets.push(frame);
  return sets.reverse(); // first dataset is drawn on top
}

new Chart(document.getElementById('mapChart'), {
  type: 'scatter',
  data: { datasets: buildMapDatasets() },
  options: {
    responsive: false,
    animation: false,
    events: [],
    layout: { padding: { left: 0, right: 204, top: 0, bottom: 0 } },
    plugins: {
      legend: { display: false },
      tooltip: { enabled: false },
      title: {
        display: true, text: titleText, fullSize: false, color: '#000',
        font: { family: fontFamily, size: 33.3, weight: 'normal' },
        padding: { top: 71.5, bottom: 10.54 }
      },
      subtitle: {
        display: true, text: footerText, position: 'bottom', fullSize: false, color: '#333',
        font: { family: fontFamily, size: 25, weight: 'normal' },
        padding: { top: 3, bottom: 56 }
      }
    },
    scales: {
      x: {
        type: 'linear', min: lonRange[0], max: lonRange[1],
        afterBuildTicks: function (axis) { axis.ticks = lonTicks.map(function (v) { return { value: v }; }); },
        afterFit: function (axis) { axis.height = 50; },
        grid: { color: '#b4b4b4', lineWidth: 1.4, drawTicks: false, z: 1 },
        border: { display: false, dash: [2, 4] },
        ticks: {
          autoSkip: false, maxRotation: 0, color: '#000', padding: 12,
          font: { family: fontFamily, size: tickSize },
          callback: function (v) { return Math.abs(v) + '°W'; }
        }
      },
      y: {
        type: 'linear', min: latRange[0], max: latRange[1],
        afterBuildTicks: function (axis) { axis.ticks = latTicks.map(function (v) { return { value: v }; }); },
        afterFit: function (axis) { axis.width = 104; },
        grid: { color: '#b4b4b4', lineWidth: 1.4, drawTicks: false, z: 1 },
        border: { display: false, dash: [2, 4] },
        ticks: {
          autoSkip: false, color: '#000', padding: 15, labelOffset: 1,
          font: { family: fontFamily, size: tickSize },
          callback: function (v) { return v === 0 ? '0°' : v + '°N'; }
        }
      }
    }
  }
});

// colour bar spacing follows the tick positions
class SpeedScale extends Chart.LinearScale {
  getPixelForValue(v) {
    var i = 0;
    while (i < speedStops.length - 2 && v > speedStops[i + 1]) i++;
    var f = speedStopPos[i] + (v - speedStops[i]) / (speedStops[i + 1] - speedStops[i]) * (speedStopPos[i + 1] - speedStopPos[i]);
    return this.bottom - f * (this.bottom - this.top);
  }
}
SpeedScale.id = 'speed';
SpeedScale.defaults = Chart.LinearScale.defaults;
Chart.register(SpeedScale);

function barGradient(context) {
  var chart = context.chart;
  if (!chart.chartArea) return colorValues[0];
  var axis = chart.scales.y;
  var g = chart.ctx.createLinearGradient(0, axis.bottom, 0, axis.top);
  colorKnots.forEach(function (k, i) {
    g.addColorStop((axis.bottom - axis.getPixelForValue(k)) / (axis.bottom - axis.top), colorValues[i]);
  });
  g.addColorStop(1, colorValues[colorValues.length - 1]);
  return g;
}

var barOutline = lineSet(closed([[0, 20], [1, 20], [1, 120], [0.5, speedApex], [0, 120]]), '#000', 2.2);
barOutline.clip = false;
barOutline.borderJoinStyle = 'miter';
var barFill = fillSet(barBody, barGradient);
var arrowFill = fillSet(barArrow, colorValues[colorValues.length - 1]);

var barLabelPlugin = {
  id: 'barLabel',
  afterDraw: function (chart) {
    var ctx = chart.ctx;
    ctx.save();
    ctx.translate(161, 497);
    ctx.rotate(-Math.PI / 2);
    ctx.font = '27.7px ' + fontFamily;
    ctx.fillStyle = '#000';
    ctx.textAlign = 'center';
    ctx.textBaseline = 'middle';
    ctx.fillText(barLabel, 0, 0);
    ctx.restore();
  }
};

new Chart(document.getElementById('barChart'), {
  type: 'scatter',
  data: { datasets: [barOutline, barFill, arrowFill] },
  plugins: [barLabelPlugin],
  options: {
    responsive: false,
    animation: false,
    events: [],
    layout: { padding: { left: 20, right: 0, top: 20, bottom: 37 } },
    plugins: { legend: { display: false }, tooltip: { enabled: false } },
    scales: {
      x: { type: 'linear', min: 0, max: 1, display: false },
      y: {
        type: 'speed', position: 'right', min: 20, max: speedApex,
        afterBuildTicks: function (axis) { axis.ticks = speedTicks.map(function (v) { return { value: v }; }); },
        afterFit: function (axis) { axis.width = 130; axis.paddingTop = 0; axis.paddingBottom = 0; },
        grid: { drawOnChartArea: false, drawTicks: true, tickLength: 10, tickWidth: 2.2, tickColor: '#000' },
        border: { display: false },
        ticks: {
          autoSkip: false, color: '#000', padding: 9, labelOffset: 3,
          font: { family: fontFamily, size: tickSize }
        }
      }
    }
  }
});
</script>
</body>
</html>
